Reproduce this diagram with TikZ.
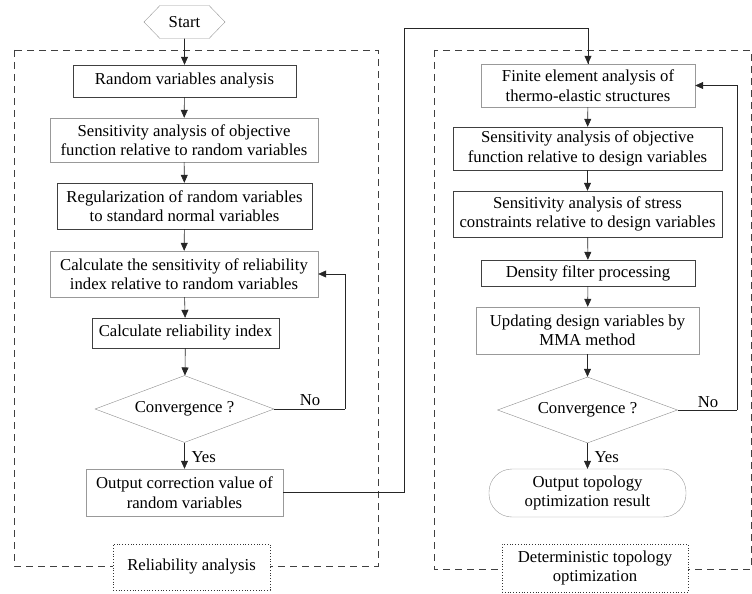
\documentclass[tikz,border=0pt]{standalone}
\usepackage{fontspec}
\setmainfont{Liberation Serif}
\usetikzlibrary{arrows.meta,shapes.geometric,shapes.symbols}
\tikzset{
  box/.style={draw=black!75, thin, align=center, inner sep=0pt},
  lbox/.style={box, draw=black!40},
  decide/.style={diamond, draw=black!45, thin, inner sep=0pt, aspect=2.7},
  tag/.style={draw=black!80, dotted, thick, fill=white, align=center, inner sep=0pt},
  arr/.style={-{Triangle[length=8pt,width=7pt]}, black!85, semithick},
  ln/.style={black!85, semithick},
  frame/.style={dashed, black!75, semithick, dash pattern=on 7pt off 5pt}
}
\begin{document}
\begin{tikzpicture}[x=1pt, y=-1pt, font=\fontsize{16.7}{19.5}\selectfont]
    \useasboundingbox (0,0) rectangle (752,594);
    % the two dashed frames
    \draw[frame] (14,50) rectangle (378,566);
    \draw[frame] (434,50) rectangle (751,569);

    % left column: reliability analysis
    \node[signal, signal to=east and west, signal pointer angle=92, draw=black!40,
          minimum width=81pt, minimum height=33pt, inner sep=0pt] (start) at (184.5,22) {Start};
    \node[box,  minimum width=223pt, minimum height=32pt] (b1) at (184.5,81) {Random variables analysis};
    \node[lbox, minimum width=268pt, minimum height=44pt] (b2) at (184,140) {Sensitivity analysis of objective\\function relative to random variables};
    \node[box,  minimum width=255pt, minimum height=46pt] (b3) at (184.5,206) {Regularization of random variables\\to standard normal variables};
    \node[lbox, minimum width=268pt, minimum height=46pt] (b4) at (184,274) {Calculate the sensitivity of reliability\\index relative to random variables};
    \node[box,  minimum width=187pt, minimum height=30pt] (b5) at (185.5,333) {Calculate reliability index};
    \node[decide, minimum width=179pt, minimum height=67pt] (d1) at (184.5,409) {Convergence ?};
    \node[lbox, minimum width=197pt, minimum height=47pt] (b6) at (184.5,492.5) {Output correction value of\\random variables};
    \node[tag, minimum width=157pt, minimum height=46pt] (t1) at (191.5,567) {Reliability analysis};

    % right column: deterministic topology optimization
    \node[lbox, minimum width=214pt, minimum height=43pt] (r1) at (588,85.5) {Finite element analysis of\\thermo-elastic structures};
    \node[box,  minimum width=269pt, minimum height=43pt] (r2) at (587.5,148.5) {Sensitivity analysis of objective\\function relative to design variables};
    \node[box,  minimum width=269pt, minimum height=46pt] (r3) at (587.5,214) {Sensitivity analysis of stress\\constraints relative to design variables};
    \node[box,  minimum width=214pt, minimum height=26pt] (r4) at (588,273) {Density filter processing};
    \node[lbox, minimum width=223pt, minimum height=47pt] (r5) at (587.5,330.5) {Updating design variables by\\MMA method};
    \node[decide, minimum width=180pt, minimum height=66pt] (d2) at (587.5,410) {Convergence ?};
    \node[lbox, rounded corners=23pt, minimum width=197pt, minimum height=48pt] (r6) at (587.5,493) {Output topology\\optimization result};
    \node[tag, minimum width=186pt, minimum height=48pt] (t2) at (595,568) {Deterministic topology\\optimization};

    % straight arrows down both columns
    \foreach \a/\b in {start/b1,b1/b2,b2/b3,b3/b4,b4/b5,b5/d1,d1/b6,r1/r2,r2/r3,r3/r4,r4/r5,r5/d2,d2/r6}
        \draw[arr] (\a) -- (\b);
    \node[anchor=west] (y1) at (188,457) {Yes};
    \node[anchor=west] (y2) at (591,457) {Yes};

    % loops back when not converged
    \coordinate (c1) at (345,409);
    \coordinate (c2) at (737,410);
    \draw[ln] (d1.east) -- (c1);
    \draw[arr] (c1) |- (b4.east);
    \node (n1) at (310,400) {No};
    \draw[ln] (d2.east) -- (c2);
    \draw[arr] (c2) |- (r1.east);
    \node (n2) at (708,402) {No};

    % link between the two parts
    \coordinate (k1) at (404,492.5);
    \coordinate (k2) at (404,28);
    \draw[ln] (b6.east) -- (k1) -- (k2) -| (r1.north);
    \draw[arr] (588,40) -- (r1.north);
\end{tikzpicture}
\end{document}
